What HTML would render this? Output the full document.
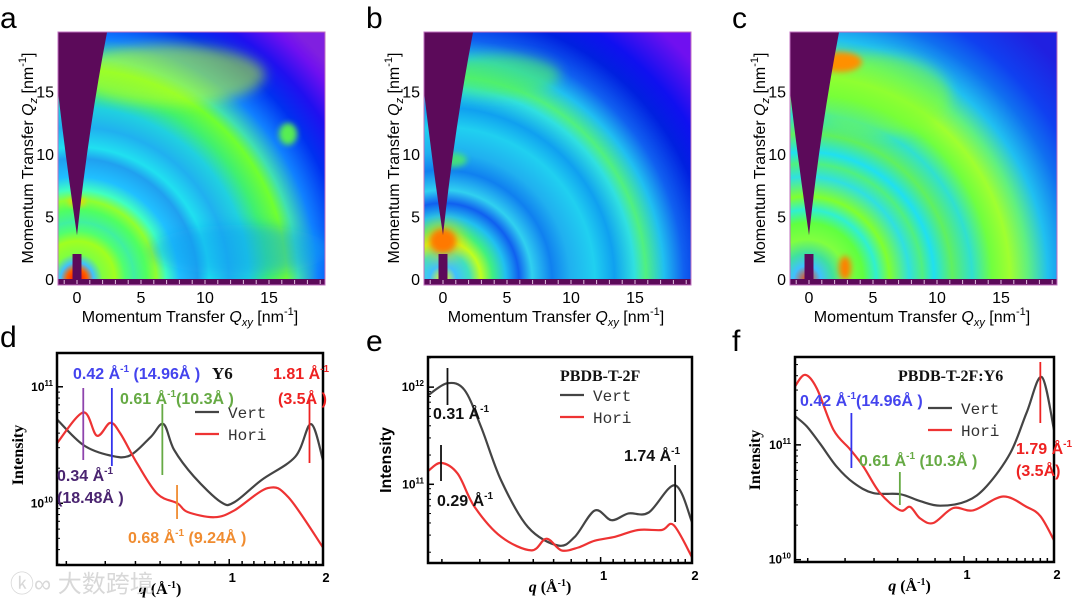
<!DOCTYPE html>
<html><head><meta charset="utf-8">
<style>
html,body{margin:0;padding:0;background:#fff;}
body{width:1080px;height:605px;overflow:hidden;position:relative;font-family:"Liberation Sans",Arial,sans-serif;}
svg{position:absolute;left:0;top:0;}
.lbl{font-family:"Liberation Sans",Arial,sans-serif;}
.ser{font-family:"Liberation Serif","Times New Roman",serif;}
.mono{font-family:"Liberation Mono","Courier New",monospace;}
</style></head>
<body>
<svg id="fig" width="1080" height="605" viewBox="0 0 1080 605" xmlns="http://www.w3.org/2000/svg">
<defs>
<filter id="blur6" x="-50%" y="-50%" width="200%" height="200%"><feGaussianBlur stdDeviation="6"/></filter>
<filter id="blur3" x="-50%" y="-50%" width="200%" height="200%"><feGaussianBlur stdDeviation="3"/></filter>
<radialGradient id="ga" gradientUnits="userSpaceOnUse" cx="77" cy="279" r="330">
<stop offset="0" stop-color="#ff0000"/><stop offset="0.03" stop-color="#ff6000"/><stop offset="0.05" stop-color="#40c0ff"/>
<stop offset="0.077" stop-color="#80ff40"/><stop offset="0.115" stop-color="#a0ff20"/><stop offset="0.146" stop-color="#50ff70"/>
<stop offset="0.173" stop-color="#40f0a0"/><stop offset="0.21" stop-color="#50ff60"/><stop offset="0.24" stop-color="#90ff30"/>
<stop offset="0.27" stop-color="#40ffc0"/><stop offset="0.31" stop-color="#20c0ff"/><stop offset="0.365" stop-color="#20a0f0"/>
<stop offset="0.40" stop-color="#20e0f0"/><stop offset="0.46" stop-color="#20b0f0"/><stop offset="0.52" stop-color="#20d0e0"/>
<stop offset="0.577" stop-color="#40f070"/><stop offset="0.635" stop-color="#70ff30"/><stop offset="0.67" stop-color="#40e0b0"/>
<stop offset="0.73" stop-color="#1080ff"/><stop offset="0.81" stop-color="#0030f0"/><stop offset="0.885" stop-color="#2010f0"/>
<stop offset="0.96" stop-color="#7010f0"/><stop offset="1" stop-color="#8020e0"/>
</radialGradient>
<radialGradient id="gb" gradientUnits="userSpaceOnUse" cx="443" cy="279" r="330">
<stop offset="0" stop-color="#ffff00"/><stop offset="0.04" stop-color="#40c0ff"/><stop offset="0.08" stop-color="#40e0c0"/>
<stop offset="0.115" stop-color="#c0ff20"/><stop offset="0.15" stop-color="#40f080"/><stop offset="0.19" stop-color="#20c0f0"/>
<stop offset="0.23" stop-color="#1060f0"/><stop offset="0.27" stop-color="#30d0f0"/><stop offset="0.33" stop-color="#1080f0"/>
<stop offset="0.385" stop-color="#20b0f0"/><stop offset="0.46" stop-color="#20d0f0"/><stop offset="0.52" stop-color="#10a0f0"/>
<stop offset="0.58" stop-color="#30e0e0"/><stop offset="0.615" stop-color="#50f080"/><stop offset="0.67" stop-color="#20c0f0"/>
<stop offset="0.73" stop-color="#1060f0"/><stop offset="0.81" stop-color="#0020e0"/><stop offset="0.88" stop-color="#1010f0"/>
<stop offset="1" stop-color="#7010f0"/>
</radialGradient>
<radialGradient id="gc" gradientUnits="userSpaceOnUse" cx="807" cy="279" r="330">
<stop offset="0" stop-color="#ff4000"/><stop offset="0.04" stop-color="#40c0ff"/><stop offset="0.077" stop-color="#40e0a0"/>
<stop offset="0.12" stop-color="#80ff40"/><stop offset="0.17" stop-color="#60ff40"/><stop offset="0.21" stop-color="#30f0d0"/>
<stop offset="0.25" stop-color="#80ff30"/><stop offset="0.31" stop-color="#30e0e0"/><stop offset="0.35" stop-color="#50f080"/>
<stop offset="0.385" stop-color="#20e0f0"/><stop offset="0.44" stop-color="#60f060"/><stop offset="0.5" stop-color="#30e0d0"/>
<stop offset="0.56" stop-color="#70ff40"/><stop offset="0.615" stop-color="#a0ff30"/><stop offset="0.67" stop-color="#60f080"/>
<stop offset="0.73" stop-color="#20c0f0"/><stop offset="0.81" stop-color="#1070f0"/><stop offset="0.88" stop-color="#1040f0"/>
<stop offset="1" stop-color="#2020e0"/>
</radialGradient>
<clipPath id="ca"><rect x="58" y="32" width="267" height="253"/></clipPath>
<clipPath id="cb"><rect x="424" y="32" width="267" height="253"/></clipPath>
<clipPath id="cc"><rect x="790" y="32" width="267" height="253"/></clipPath>
</defs>

<g clip-path="url(#ca)">
<rect x="58" y="32" width="267" height="253" fill="url(#ga)"/>
<ellipse cx="170" cy="75" rx="95" ry="30" fill="#c0ff20" opacity="0.55" filter="url(#blur6)"/>
<ellipse cx="288" cy="134" rx="9" ry="11" fill="#60ff40" opacity="0.9" filter="url(#blur3)"/>
<ellipse cx="240" cy="250" rx="90" ry="25" fill="#10a0f0" opacity="0.45" filter="url(#blur6)"/>
<ellipse cx="77" cy="202" rx="9" ry="4" fill="#ffd000" opacity="0.9" filter="url(#blur3)"/>
</g>
<g clip-path="url(#cb)">
<rect x="424" y="32" width="267" height="253" fill="url(#gb)"/>
<ellipse cx="500" cy="75" rx="60" ry="20" fill="#50f060" opacity="0.6" filter="url(#blur6)"/>
<ellipse cx="453" cy="160" rx="14" ry="7" fill="#50f060" opacity="0.8" filter="url(#blur3)"/>
<ellipse cx="443" cy="241" rx="13" ry="12" fill="#ff2000" filter="url(#blur3)"/>
<ellipse cx="443" cy="241" rx="22" ry="20" fill="#ffd000" opacity="0.5" filter="url(#blur6)"/>
</g>
<g clip-path="url(#cc)">
<rect x="790" y="32" width="267" height="253" fill="url(#gc)"/>
<ellipse cx="880" cy="95" rx="70" ry="40" fill="#80ff30" opacity="0.5" filter="url(#blur6)"/>
<ellipse cx="840" cy="62" rx="22" ry="10" fill="#ff9000" filter="url(#blur3)"/>
<ellipse cx="845" cy="268" rx="6" ry="12" fill="#ff8000" filter="url(#blur3)"/>
</g>

<g id="frames"></g>
<g id="toplabels"></g>
<g id="charts"></g>

<text x="10" y="592" font-size="24" fill="#d8d8d8" class="lbl" font-family="'Liberation Sans','Noto Sans CJK SC',sans-serif">ⓚ∞ 大数跨境</text>
</svg>

<script>
// ---------- data: panel d (Y6) ----------
const dQVert = [0.28,0.34,0.415,0.48,0.56,0.615,0.665,0.77,0.94,1.04,1.27,1.63,1.83,2.0];
const dVert  = [10.72,10.50,10.41,10.41,10.57,10.68,10.46,10.23,10.01,10.01,10.20,10.40,10.68,10.37];
const dQHori = [0.28,0.34,0.376,0.415,0.447,0.507,0.588,0.682,0.735,0.896,1.04,1.33,1.55,2.0];
const dHori  = [10.515,10.78,10.58,10.69,10.60,10.34,10.08,10.0,9.925,9.88,9.94,10.13,10.05,9.62];
// ---------- data: panel e (PBDB-T-2F) ----------
const eQVert = [0.271,0.313,0.356,0.404,0.470,0.576,0.724,0.822,0.957,1.087,1.235,1.44,1.76,2.0];
const eVert  = [11.92,12.04,11.97,11.59,11.04,10.56,10.37,10.46,10.73,10.63,10.70,10.71,10.99,10.61];
const eQHori = [0.271,0.298,0.338,0.384,0.470,0.591,0.663,0.743,0.844,0.957,1.115,1.33,1.59,1.74,2.0];
const eHori  = [11.14,11.22,11.11,10.77,10.46,10.32,10.44,10.32,10.35,10.42,10.46,10.53,10.53,10.58,10.25];
// ---------- data: panel f (PBDB-T-2F:Y6) ----------
const fQVert = [0.272,0.298,0.330,0.375,0.427,0.497,0.611,0.713,0.832,1.02,1.19,1.43,1.62,1.82,2.0];
const fVert  = [11.25,11.16,11.01,10.81,10.67,10.58,10.57,10.51,10.47,10.51,10.64,10.93,11.28,11.59,11.13];
const fQHori = [0.272,0.294,0.322,0.366,0.416,0.461,0.524,0.611,0.660,0.713,0.789,0.921,1.075,1.35,1.62,1.80,2.0];
const fHori  = [11.51,11.61,11.49,11.13,10.96,10.81,10.58,10.43,10.46,10.36,10.32,10.45,10.43,10.55,10.46,10.38,10.17];
// ---------- axis tick labels ----------
const xTickLabels = ["1","2"];
const dYTicks = [11,10];
const eYTicks = [12,11];
const fYTicks = [11,10];
const mapTicks = [0,5,10,15];

const NS = "http://www.w3.org/2000/svg";
function mk(tag, attrs, parent){ const e=document.createElementNS(NS,tag); for(const k in attrs) e.setAttribute(k,attrs[k]); parent.appendChild(e); return e; }

const frames=document.getElementById('frames');
const tl=document.getElementById('toplabels');
const letters=["a","b","c"];
[0,366,732].forEach((ox,i)=>{
  const x0=77+ox, y0=279, sx=12.8, sy=12.5;
  const X=v=>x0+v*sx, Y=v=>y0-v*sy;
  const g=mk('g',{},frames);
  
  
  mk('path',{d:`M${X(0)},${Y(3.5)} Q${X(0.9)},${Y(12)} ${X(2.35)},32 L${58+ox},32 L${58+ox},${Y(15)} Q${X(-0.8)},${Y(9)} ${X(0)},${Y(3.5)} Z`,fill:'#5c0a5a'},g);
  mk('rect',{x:X(-0.35),y:Y(2),width:0.7*sx,height:2*sy+6,fill:'#5c0a5a'},g);
  mk('rect',{x:58+ox,y:279,width:267,height:6,fill:'#5c0a5a'},g);
  for(let t=-1;t<=19;t+=1){ mk('line',{x1:X(t),x2:X(t),y1:280,y2:284,stroke:'#e0c0e0','stroke-width':1},g); }
  mk('rect',{x:58+ox,y:32,width:267,height:253,fill:'none',stroke:'#c070c0','stroke-width':1},g);
  const L=mk('text',{x:0+ox,y:28,'font-size':30,class:'lbl'},tl); L.textContent=letters[i];
  
  
  mapTicks.forEach(t=>{
    const tx=mk('text',{x:X(t),y:303,'font-size':16,'text-anchor':'middle',class:'lbl'},tl); tx.textContent=t;
    
    
    const ty=mk('text',{x:54+ox,y:Y(t)+6,'font-size':16,'text-anchor':'end',class:'lbl'},tl); ty.textContent=t;
    
    
  });
  const xl=mk('text',{x:190+ox,y:322,'font-size':16,'text-anchor':'middle',class:'lbl'},tl);
  xl.innerHTML='Momentum Transfer <tspan font-style="italic">Q</tspan><tspan font-style="italic" font-size="11" dy="4">xy</tspan><tspan dy="-4"> [nm</tspan><tspan font-size="11" dy="-7">-1</tspan><tspan dy="7">]</tspan>';
  
  
  const yl=mk('text',{x:0,y:0,'font-size':16,'text-anchor':'middle',class:'lbl',transform:`translate(${33+ox},158) rotate(-90)`},tl);
  yl.innerHTML='Momentum Transfer <tspan font-style="italic">Q</tspan><tspan font-style="italic" font-size="11" dy="4">z</tspan><tspan dy="-4"> [nm</tspan><tspan font-size="11" dy="-7">-1</tspan><tspan dy="7">]</tspan>';
  
  
});

function smoothPath(pts){
  let d=`M${pts[0][0].toFixed(1)},${pts[0][1].toFixed(1)}`;
  for(let i=0;i<pts.length-1;i++){
    const p0=pts[i-1]||pts[i], p1=pts[i], p2=pts[i+1], p3=pts[i+2]||p2;
    const c1=[p1[0]+(p2[0]-p0[0])/6, p1[1]+(p2[1]-p0[1])/6];
    const c2=[p2[0]-(p3[0]-p1[0])/6, p2[1]-(p3[1]-p1[1])/6];
    d+=` C${c1[0].toFixed(1)},${c1[1].toFixed(1)} ${c2[0].toFixed(1)},${c2[1].toFixed(1)} ${p2[0].toFixed(1)},${p2[1].toFixed(1)}`;
  }
  return d;
}
const charts=document.getElementById('charts');
function panel(cfg){
  const g=mk('g',{},charts);
  
  
  const {x0,x1,y0,y1,qMin,qMax,lMin,lMax}=cfg;
  const xs=q=>x0+(Math.log10(q)-Math.log10(qMin))/(Math.log10(qMax)-Math.log10(qMin))*(x1-x0);
  const ys=l=>y1-(l-lMin)/(lMax-lMin)*(y1-y0);
  [0.3,0.4,0.5,0.6,0.7,0.8,0.9,1,1.1,1.2,1.3,1.4,1.5,1.6,1.7,1.8,1.9,2].forEach(q=>{
    if(q<qMin||q>qMax) return;
    const major=(q===1||q===2);
    mk('line',{x1:xs(q),x2:xs(q),y1:y1,y2:y1-(major?6:4),stroke:'#000','stroke-width':1.5},g);
  });
  for(let l=Math.floor(lMin);l<=lMax;l++){
    for(let m=1;m<10;m++){ const v=l+Math.log10(m); if(v<lMin||v>lMax) continue;
      mk('line',{x1:x0,x2:x0+(m===1?6:3),y1:ys(v),y2:ys(v),stroke:'#000','stroke-width':m===1?1.5:1},g); }
  }
  cfg.yTicks.forEach(t=>{
    const tx=mk('text',{x:x0-4,y:ys(t)+4,'font-size':12,'font-weight':'bold','text-anchor':'end',class:'lbl'},g);
    tx.innerHTML='10<tspan font-size="8" dy="-5">'+t+'</tspan>';
    
    
  });
  [1,2].forEach((q,i)=>{
    const tx=mk('text',{x:xs(q)+3,y:y1+17,'font-size':13,'font-weight':'bold','text-anchor':'middle',class:'lbl'},g);
    tx.textContent=xTickLabels[i];
    
    
  });
  const vp=mk('path',{d:smoothPath(cfg.qv.map((q,i)=>[xs(q),ys(cfg.v[i])])),fill:'none',stroke:'#444','stroke-width':2.2},g);
  
  
  const hp=mk('path',{d:smoothPath(cfg.qh.map((q,i)=>[xs(q),ys(cfg.h[i])])),fill:'none',stroke:'#ee3333','stroke-width':2.2},g);
  
  
  mk('rect',{x:x0,y:y0,width:x1-x0,height:y1-y0,fill:'none',stroke:'#000','stroke-width':2.5},g);
  const lg=mk('g',{},g);
  
  
  mk('line',{x1:cfg.lx,x2:cfg.lx+24,y1:cfg.ly,y2:cfg.ly,stroke:'#444','stroke-width':2.2},lg);
  mk('line',{x1:cfg.lx,x2:cfg.lx+24,y1:cfg.ly+22,y2:cfg.ly+22,stroke:'#ee3333','stroke-width':2.2},lg);
  const t1=mk('text',{x:cfg.lx+33,y:cfg.ly+6,'font-size':16,class:'mono',fill:'#333'},lg); t1.textContent='Vert';
  const t2=mk('text',{x:cfg.lx+33,y:cfg.ly+28,'font-size':16,class:'mono',fill:'#333'},lg); t2.textContent='Hori';
  const xl=mk('text',{x:(x0+x1)/2+(cfg.xlOff||0),y:y1+29,'font-size':16,'font-weight':'bold','text-anchor':'middle',class:'ser'},g);
  xl.innerHTML='<tspan font-style="italic">q</tspan> (Å<tspan font-size="10" dy="-6">-1</tspan><tspan dy="6">)</tspan>';
  
  
  const yl=mk('text',{x:0,y:0,'font-size':16,'font-weight':'bold','text-anchor':'middle',class:cfg.ylClass,transform:`translate(${cfg.ylx},${cfg.yly}) rotate(-90)`},g);
  yl.textContent='Intensity';
  
  
  cfg.marks.forEach(m=>{
    const ln=mk('line',{x1:xs(m.q),x2:xs(m.q),y1:m.y1,y2:m.y2,stroke:m.c,'stroke-width':1.8},g);
    
    
  });
  cfg.texts.forEach(t=>{
    const tx=mk('text',{x:t.x,y:t.y,'font-size':t.s||16,'font-weight':'bold',fill:t.c,class:t.cls||'lbl'},g);
    tx.innerHTML=t.h;
    
    
  });
  const L=mk('text',{x:cfg.letterX,y:y0-6,'font-size':30,class:'lbl'},g); L.textContent=cfg.letter;
  
  
}
const inv='Å<tspan font-size="10" dy="-7">-1</tspan><tspan dy="7">';
panel({letter:'d',letterX:0,x0:57,x1:323,y0:353,y1:565,qMin:0.28,qMax:2.0,lMin:9.47,lMax:11.29,
  qv:dQVert,v:dVert,qh:dQHori,h:dHori,yTicks:dYTicks,lx:195,ly:412,ylx:23,yly:455,ylClass:'ser',xlOff:-30,
  marks:[{q:0.34,y1:388,y2:460,c:'#8e44ad'},{q:0.42,y1:388,y2:466,c:'#3333ee'},{q:0.61,y1:404,y2:475,c:'#66aa44'},{q:0.68,y1:485,y2:519,c:'#f08c30'},{q:1.81,y1:400,y2:463,c:'#ee2222'}],
  texts:[{x:73,y:379,c:'#4444ee',h:'0.42 '+inv+' (14.96Å )</tspan>'},
    {x:212,y:379,c:'#111',cls:'ser',s:17,h:'Y6'},
    {x:273,y:379,c:'#ee2222',h:'1.81 '+inv+'</tspan>'},
    {x:278,y:404,c:'#ee2222',h:'(3.5Å )'},
    {x:120,y:404,c:'#66aa44',h:'0.61 '+inv+'(10.3Å )</tspan>'},
    {x:57,y:481,c:'#4a2470',h:'0.34 '+inv+'</tspan>'},
    {x:57,y:503,c:'#4a2470',h:'(18.48Å )'},
    {x:128,y:543,c:'#f08c30',h:'0.68 '+inv+' (9.24Å )</tspan>'}]});
panel({letter:'e',letterX:366,x0:428,x1:692,y0:357,y1:563,qMin:0.27,qMax:2.0,lMin:10.19,lMax:12.31,
  qv:eQVert,v:eVert,qh:eQHori,h:eHori,yTicks:eYTicks,lx:560,ly:395,ylx:391,yly:460,ylClass:'lbl',xlOff:-10,
  marks:[{q:0.313,y1:368,y2:405,c:'#111'},{q:0.298,y1:445,y2:481,c:'#111'},{q:1.76,y1:465,y2:522,c:'#111'}],
  texts:[{x:560,y:381,c:'#111',cls:'ser',s:16,h:'PBDB-T-2F'},
    {x:433,y:419,c:'#111',h:'0.31 '+inv+'</tspan>'},
    {x:437,y:506,c:'#111',h:'0.29 '+inv+'</tspan>'},
    {x:624,y:461,c:'#111',h:'1.74 '+inv+'</tspan>'}]});
panel({letter:'f',letterX:732,x0:795,x1:1054,y0:357,y1:562,qMin:0.272,qMax:2.0,lMin:9.98,lMax:11.765,
  qv:fQVert,v:fVert,qh:fQHori,h:fHori,yTicks:fYTicks,lx:928,ly:408,ylx:760,yly:460,ylClass:'ser',xlOff:-15,
  marks:[{q:0.42,y1:413,y2:468,c:'#3333ee'},{q:0.61,y1:472,y2:505,c:'#66aa44'},{q:1.80,y1:362,y2:423,c:'#ee2222'}],
  texts:[{x:898,y:381,c:'#111',cls:'ser',s:16,h:'PBDB-T-2F:Y6'},
    {x:800,y:406,c:'#4444ee',h:'0.42 '+inv+'(14.96Å )</tspan>'},
    {x:859,y:466,c:'#66aa44',h:'0.61 '+inv+' (10.3Å )</tspan>'},
    {x:1016,y:454,c:'#ee2222',h:'1.79 '+inv+'</tspan>'},
    {x:1016,y:476,c:'#ee2222',h:'(3.5Å)'}]});
</script>
</body></html>
